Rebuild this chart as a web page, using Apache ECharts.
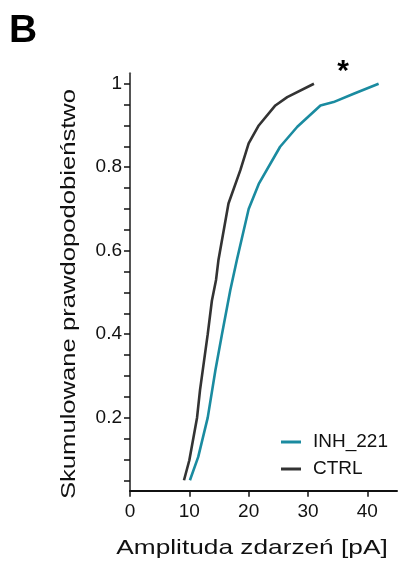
<!DOCTYPE html>
<html>
<head>
<meta charset="utf-8">
<script src="https://cdn.jsdelivr.net/npm/echarts@6/dist/echarts.min.js"></script>
<style>html,body{margin:0;padding:0;background:#fff;}#c{width:398px;height:571px;}</style>
</head>
<body>
<div id="c"></div>
<script>
const ctrlX = [9.1, 10.0, 11.3, 11.8, 13.1, 13.8, 14.5, 14.9, 16.6, 18.6, 20.0, 21.7, 24.5, 26.5, 31.0];
const ctrlY = [0.05, 0.098, 0.2, 0.266, 0.4, 0.48, 0.53, 0.577, 0.713, 0.793, 0.857, 0.90, 0.948, 0.968, 1.0];
const inhX = [10.1, 11.5, 13.1, 14.4, 15.5, 16.9, 18.0, 20.0, 21.7, 25.3, 28.2, 32.1, 34.3, 37.7, 41.9];
const inhY = [0.05, 0.106, 0.2, 0.314, 0.4, 0.505, 0.577, 0.70, 0.76, 0.849, 0.897, 0.948, 0.956, 0.976, 1.0];
const yLabelValues = [0.2, 0.4, 0.6, 0.8, 1];
const yTickValues = [0.05,0.1,0.15,0.2,0.25,0.3,0.35,0.4,0.45,0.5,0.55,0.6,0.65,0.7,0.75,0.8,0.85,0.9,0.95,1.0];
const seriesNames = ['INH_221', 'CTRL'];
const labels = {panel: 'B', star: '*', xTitle: 'Amplitude zdarzeń [pA]', yTitle: 'Skumulowane prawdopodobieństwo'};
labels.xTitle = 'Amplituda zdarzeń [pA]';

const zip = (a, b) => a.map((v, i) => [v, b[i]]);
const chart = echarts.init(document.getElementById('c'));
const font = 'Liberation Sans, Arial, sans-serif';
chart.setOption({
  animation: false,
  backgroundColor: '#fff',
  grid: {left: 130, top: 73.3, width: 267, height: 417.4, containLabel: false},
  xAxis: {
    type: 'value', min: 0, max: 45, interval: 10,
    axisLine: {show: true, onZero: false, lineStyle: {color: '#111', width: 2}},
    axisTick: {show: true, length: 6, lineStyle: {color: '#111', width: 1.5}},
    axisLabel: {color: '#111', fontSize: 19, fontFamily: font, margin: 12, showMaxLabel: false,
      formatter: v => (v > 40 ? '' : String(v))},
    splitLine: {show: false}
  },
  yAxis: {
    type: 'value', min: 0.025, max: 1.025,
    axisLine: {show: true, onZero: false, lineStyle: {color: '#555', width: 2}},
    axisTick: {show: true, length: 6, customValues: yTickValues, lineStyle: {color: '#111', width: 1.5}},
    axisLabel: {color: '#111', fontSize: 19, fontFamily: font, margin: 8, customValues: yLabelValues,
      formatter: v => (Math.abs(v - 1) < 1e-9 ? '1' : v.toFixed(1))},
    splitLine: {show: false}
  },
  legend: {
    data: seriesNames, orient: 'vertical', left: 276, top: 427,
    icon: 'rect', itemWidth: 20, itemHeight: 3, itemGap: 7,
    textStyle: {fontSize: 19, fontFamily: font, color: '#111', lineHeight: 20, padding: [0, 0, 0, 7]}
  },
  graphic: [
    {type: 'text', left: 9, top: 12, style: {text: labels.panel, font: 'bold 39px ' + font, fill: '#000'}},
    {type: 'text', x: 343, y: 72, style: {text: labels.star, font: 'bold 30px ' + font, fill: '#000', align: 'center', verticalAlign: 'middle'}},
    {type: 'text', x: 252, y: 548, scaleX: 1.25, style: {text: labels.xTitle, font: '21px ' + font, fill: '#111', align: 'center', verticalAlign: 'middle'}},
    {type: 'text', x: 69, y: 294, rotation: Math.PI / 2, scaleX: 1.22, style: {text: labels.yTitle, font: '21px ' + font, fill: '#111', align: 'center', verticalAlign: 'middle'}}
  ],
  series: [
    {name: seriesNames[0], type: 'line', data: zip(inhX, inhY), showSymbol: false, symbol: 'none',
      lineStyle: {color: '#1a8ba0', width: 2.6}, itemStyle: {color: '#1a8ba0'}, z: 3},
    {name: seriesNames[1], type: 'line', data: zip(ctrlX, ctrlY), showSymbol: false, symbol: 'none',
      lineStyle: {color: '#333333', width: 2.6}, itemStyle: {color: '#333333'}, z: 2}
  ]
});
</script>
</body>
</html>
